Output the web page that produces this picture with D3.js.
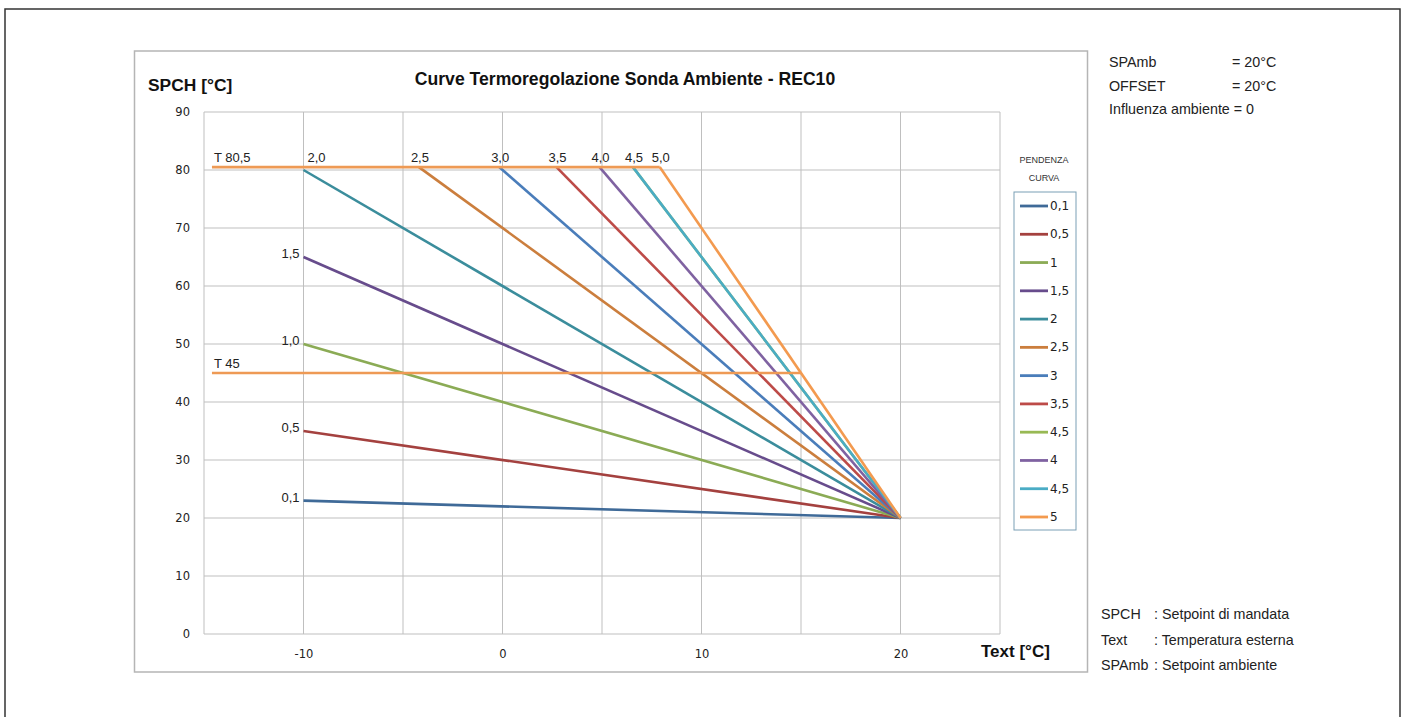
<!DOCTYPE html>
<html lang="it">
<head>
<meta charset="utf-8">
<title>Curve Termoregolazione</title>
<script src="https://d3js.org/d3.v7.min.js"></script>
<style>
  body { margin: 0; background: #fff; }
  svg { display: block; font-family: "Liberation Sans", Arial, sans-serif; }
  .grid line { stroke: #bfbfbf; stroke-width: 1; }
  .tick text { font-family: "DejaVu Sans", Verdana, sans-serif; font-size: 11.5px; fill: #222; }
  .lbl { font-size: 13px; fill: #222; }
  .note { font-size: 14.3px; fill: #222; }
  .note2 { font-size: 14.3px; fill: #222; }
</style>
</head>
<body>
<div id="chart"></div>
<script>
// slopes of the curves (legend order, as in the original workbook)
const slopes = [0.1, 0.5, 1, 1.5, 2, 2.5, 3, 3.5, 4.5, 4, 4.5, 5];
const legendNames = ["0,1", "0,5", "1", "1,5", "2", "2,5", "3", "3,5", "4,5", "4", "4,5", "5"];
const colors = ["#3f6a98", "#a4413f", "#8bab55", "#674c8c", "#3b8d9c", "#cb7e3d",
                "#4a7dba", "#bd4b48", "#98b954", "#7f62a1", "#4aacc5", "#f39a4f"];
const spAmb = 20;          // setpoint ambiente
const tMax = 80.5;         // limit T 80,5
const tMin = 45;           // limit T 45
const xStart = -10;        // curves start at Text = -10
const xLimLeft = -14.6;    // left end of the limit lines
const curveLabels = ["0,1", "0,5", "1,0", "1,5", "2,0", "2,5", "3,0", "3,5", "", "4,0", "4,5", "5,0"];
const xTicks = [-10, 0, 10, 20];
const yTicks = [0, 10, 20, 30, 40, 50, 60, 70, 80, 90];

const W = 1407, H = 717;
const svg = d3.select("#chart").append("svg").attr("width", W).attr("height", H);

// frames
svg.append("rect").attr("x", 5).attr("y", 9).attr("width", 1395).attr("height", 720)
   .attr("fill", "none").attr("stroke", "#333").attr("stroke-width", 1.5);
svg.append("rect").attr("x", 134.5).attr("y", 51).attr("width", 953).attr("height", 621)
   .attr("fill", "none").attr("stroke", "#b5b5b5").attr("stroke-width", 1.5);

const x = d3.scaleLinear().domain([-15, 25]).range([204, 1000]);
const y = d3.scaleLinear().domain([0, 90]).range([634, 112]);

// grid
const grid = svg.append("g").attr("class", "grid");
grid.selectAll(".gx").data(d3.range(-10, 26, 5)).join("line")
    .attr("x1", d => x(d)).attr("x2", d => x(d)).attr("y1", y(0)).attr("y2", y(90));
grid.selectAll(".gy").data(yTicks).join("line")
    .attr("x1", x(-15)).attr("x2", x(25)).attr("y1", d => y(d)).attr("y2", d => y(d));
grid.append("line").attr("x1", x(-15)).attr("x2", x(-15)).attr("y1", y(0)).attr("y2", y(90));

// axes
const xAxis = svg.append("g").attr("transform", `translate(0,${y(0)})`)
   .call(d3.axisBottom(x).tickValues(xTicks).tickFormat(d => String(d)).tickSize(0).tickPadding(16));
const yAxis = svg.append("g").attr("transform", `translate(${x(-15)},0)`)
   .call(d3.axisLeft(y).tickValues(yTicks).tickFormat(d => String(d)).tickSize(0).tickPadding(14));
xAxis.select(".domain").remove();
yAxis.select(".domain").remove();

// curves: y = spAmb + k*(spAmb - Text), clipped at tMax
function curve(k) {
  let xs = Math.max(xStart, spAmb - (tMax - spAmb) / k);
  return [[xs, spAmb + k * (spAmb - xs)], [spAmb, spAmb]];
}
const line = d3.line().x(d => x(d[0])).y(d => y(d[1]));
const data = slopes.map((k, i) => ({k, i, pts: curve(k)}));

svg.append("g").selectAll("path").data(data).join("path")
   .attr("d", d => line(d.pts)).attr("fill", "none")
   .attr("stroke", d => colors[d.i]).attr("stroke-width", 2.6);

// limit lines
const kLast = slopes[slopes.length - 1];
const limits = [
  {name: "T 80,5", pts: [[xLimLeft, tMax], [spAmb - (tMax - spAmb) / kLast, tMax]]},
  {name: "T 45", pts: [[xLimLeft, tMin], [spAmb - (tMin - spAmb) / kLast, tMin]]}
];
svg.append("g").selectAll("path").data(limits).join("path")
   .attr("d", d => line(d.pts)).attr("fill", "none")
   .attr("stroke", "#ee9a55").attr("stroke-width", 2.6);
svg.append("g").selectAll("text").data(limits).join("text").attr("class", "lbl")
   .attr("x", d => x(d.pts[0][0]) + 2).attr("y", d => y(d.pts[0][1]) - 5).text(d => d.name);

// curve labels
const labG = svg.append("g");
data.forEach(d => {
  const t = curveLabels[d.i];
  if (!t) return;
  const p = d.pts[0];
  if (p[1] < 79) {
    labG.append("text").attr("class", "lbl").attr("text-anchor", "end")
      .attr("x", x(p[0]) - 4).attr("y", y(p[1]) + 1).text(t);
  } else if (p[0] === xStart) {
    labG.append("text").attr("class", "lbl")
      .attr("x", x(p[0]) + 4).attr("y", y(tMax) - 5).text(t);
  } else {
    labG.append("text").attr("class", "lbl").attr("text-anchor", "middle")
      .attr("x", x(p[0]) + 1).attr("y", y(tMax) - 5).text(t);
  }
});

// titles
svg.append("text").attr("x", 625).attr("y", 85).attr("text-anchor", "middle")
   .attr("font-weight", "bold").attr("font-size", 17.6).attr("fill", "#111")
   .text("Curve Termoregolazione Sonda Ambiente - REC10");
svg.append("text").attr("x", 148).attr("y", 91)
   .attr("font-weight", "bold").attr("font-size", 17.4).attr("fill", "#111").text("SPCH [°C]");
svg.append("text").attr("x", 981).attr("y", 657)
   .attr("font-weight", "bold").attr("font-size", 17).attr("fill", "#111").text("Text [°C]");

// legend
const lg = svg.append("g");
lg.append("text").attr("x", 1044).attr("y", 163).attr("text-anchor", "middle")
  .attr("font-size", 9).attr("fill", "#333").text("PENDENZA");
lg.append("text").attr("x", 1044).attr("y", 181).attr("text-anchor", "middle")
  .attr("font-size", 9).attr("fill", "#333").text("CURVA");
lg.append("rect").attr("x", 1014).attr("y", 192).attr("width", 62).attr("height", 338)
  .attr("fill", "none").attr("stroke", "#7a9fb5").attr("stroke-width", 1);
const ly = d3.scalePoint().domain(d3.range(slopes.length)).range([206, 517]);
const items = lg.selectAll(".item").data(data).join("g")
  .attr("transform", d => `translate(1020,${ly(d.i)})`);
items.append("line").attr("x1", 0).attr("x2", 28).attr("stroke", d => colors[d.i]).attr("stroke-width", 2.8);
items.append("text").attr("x", 30).attr("y", 4).attr("font-size", 12).attr("fill", "#222")
  .attr("font-family", "'DejaVu Sans', Verdana, sans-serif").text(d => legendNames[d.i]);

// notes
const notesTop = [["SPAmb", "= 20°C"], ["OFFSET", "= 20°C"], ["Influenza ambiente = 0", ""]];
const notesBottom = [["SPCH", ": Setpoint di mandata"], ["Text", ": Temperatura esterna"], ["SPAmb", ": Setpoint ambiente"]];
notesTop.forEach((n, i) => {
  svg.append("text").attr("class", "note").attr("x", 1109).attr("y", 67 + i * 23.5).text(n[0]);
  svg.append("text").attr("class", "note").attr("x", 1232).attr("y", 67 + i * 23.5).text(n[1]);
});
notesBottom.forEach((n, i) => {
  svg.append("text").attr("class", "note2").attr("x", 1101).attr("y", 619 + i * 25.5).text(n[0]);
  svg.append("text").attr("class", "note2").attr("x", 1154).attr("y", 619 + i * 25.5).text(n[1]);
});
</script>
</body>
</html>
